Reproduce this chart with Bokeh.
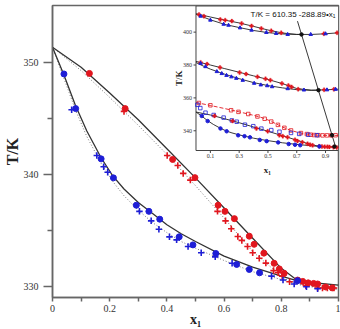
import math
from bokeh.plotting import figure
from bokeh.models import Range1d, FixedTicker
from bokeh.embed import file_html
from bokeh.resources import INLINE
from bokeh.core.properties import value

# ---------------- main panel: T versus x1 ----------------
red_circ_x = [0.129, 0.254, 0.42, 0.498, 0.579, 0.603, 0.636, 0.688, 0.705, 0.739,
              0.775, 0.793, 0.81, 0.857, 0.875, 0.894, 0.913, 0.927, 0.955, 0.978]
red_circ_T = [349.05, 345.9, 341.35, 339.72, 337.25, 336.7, 336.05, 334.48, 333.75, 332.96,
              332.05, 331.55, 331.15, 330.55, 330.43, 330.3, 330.25, 330.2, 329.93, 329.85]

red_plus_x = [0.25, 0.401, 0.438, 0.457, 0.482, 0.577, 0.605, 0.625, 0.648, 0.662, 0.682,
              0.7, 0.723, 0.746, 0.773, 0.789, 0.803, 0.829, 0.886, 0.927, 0.944, 0.961, 0.984]
red_plus_T = [345.65, 341.7, 340.8, 340.1, 339.5, 336.7, 335.85, 335.15, 334.45, 334.1, 333.55,
              333.0, 332.5, 332.07, 331.4, 331.2, 330.9, 330.4, 330.05, 329.84, 329.84, 329.84, 329.84]

blue_circ_x = [0.04, 0.081, 0.17, 0.213, 0.293, 0.337, 0.375, 0.443, 0.491, 0.571,
               0.644, 0.688, 0.724, 0.857]
blue_circ_T = [349.0, 345.9, 341.4, 339.7, 337.25, 336.7, 336.0, 334.42, 333.7, 332.93,
               331.95, 331.5, 331.2, 330.5]

blue_plus_x = [0.067, 0.155, 0.179, 0.193, 0.304, 0.345, 0.372, 0.409, 0.434, 0.474, 0.52,
               0.569, 0.628, 0.766, 0.806, 0.845, 0.888, 0.927]
blue_plus_T = [345.8, 341.7, 340.7, 340.2, 336.7, 335.85, 335.1, 334.42, 334.15, 333.55, 333.0,
               332.63, 332.05, 330.9, 330.55, 330.2, 329.95, 329.78]

# fitted curves
red_fit_x = [0, 0.1, 0.2, 0.3, 0.4, 0.5, 0.6, 0.7, 0.8, 0.86, 0.9, 1.0]
red_fit_T = [351.4, 349.6, 347.3, 344.9, 342.3, 339.7, 337.0, 334.3, 331.6, 330.45, 330.35, 330.1]
red_fit2_x = [0, 0.1, 0.2, 0.3, 0.4, 0.5, 0.6, 0.7, 0.8, 0.83, 0.9, 1.0]
red_fit2_T = [351.4, 349.3, 346.9, 344.4, 341.8, 339.0, 336.1, 333.1, 330.9, 330.4, 330.0, 329.8]
blue_fit_x = [0, 0.04, 0.08, 0.12, 0.17, 0.21, 0.25, 0.3, 0.35, 0.4, 0.45, 0.5, 0.6, 0.7, 0.8, 0.86]
blue_fit_T = [351.4, 348.9, 346.2, 343.9, 341.5, 339.9, 338.7, 337.5, 336.5, 335.5, 334.7, 334.0,
              332.7, 331.7, 330.9, 330.45]
blue_fit2_x = [0, 0.04, 0.08, 0.12, 0.17, 0.21, 0.25, 0.3, 0.35, 0.4, 0.45, 0.5, 0.6, 0.7, 0.8,
               0.86, 0.9, 1.0]
blue_fit2_T = [351.4, 348.6, 345.8, 343.4, 341.0, 339.4, 338.1, 336.8, 335.7, 334.8, 334.0, 333.4,
               332.3, 331.3, 330.6, 330.15, 329.95, 329.7]

x_ticks = [0, 0.2, 0.4, 0.6, 0.8, 1]
x_tick_labels = ["0", "0.2", "0.4", "0.6", "0.8", "1"]
x_minor = [0.1, 0.3, 0.5, 0.7, 0.9]
y_ticks = [330, 340, 350]
y_tick_labels = ["330", "340", "350"]
y_minor = [335, 345]

# ---------------- inset: several systems ----------------
top_red_x = [0.021, 0.055, 0.169, 0.203, 0.249, 0.317, 0.386, 0.454, 0.523, 0.592, 0.888, 0.98]
top_red_T = [410.7, 409.7, 407.7, 407.3, 406.7, 405.3, 403.8, 402.2, 400.8, 399.6, 399.0, 399.6]
top_blue_x = [0.032, 0.1, 0.192, 0.226, 0.306, 0.386, 0.489, 0.557, 0.637, 0.797, 0.9]
top_blue_T = [409.7, 407.3, 404.8, 404.2, 402.6, 401.2, 399.8, 399.2, 398.6, 398.6, 399.0]
top_fit_a_x = [0, 0.1, 0.2, 0.3, 0.4, 0.5, 0.6, 0.7, 0.8, 0.9, 0.99]
top_fit_a_T = [411.2, 409.2, 407.3, 405.6, 403.5, 401.3, 399.5, 398.6, 398.6, 399.0, 399.6]
top_fit_b_x = [0, 0.1, 0.2, 0.3, 0.4, 0.5, 0.6, 0.7, 0.733]
top_fit_b_T = [410.9, 407.5, 404.7, 402.8, 401.0, 399.7, 398.9, 398.6, 398.6]

mid_red_x = [0.032, 0.077, 0.167, 0.303, 0.348, 0.427, 0.483, 0.517, 0.597, 0.642, 0.664, 0.71,
             0.89, 0.958]
mid_red_T = [381.6, 380.6, 378.5, 375.4, 374.5, 372.8, 371.6, 370.8, 368.8, 367.5, 366.7, 365.3,
             364.9, 365.2]
mid_blue_x = [0.032, 0.066, 0.145, 0.179, 0.212, 0.246, 0.28, 0.325, 0.404, 0.45, 0.495, 0.529,
              0.637, 0.75, 0.91, 0.97]
mid_blue_T = [381.0, 379.0, 376.0, 374.8, 373.7, 372.8, 371.9, 370.7, 368.9, 367.9, 367.4, 366.8,
              365.6, 364.8, 364.9, 365.2]
mid_fit_a_x = [0, 0.1, 0.2, 0.3, 0.4, 0.5, 0.6, 0.7, 0.8, 0.9, 0.99]
mid_fit_a_T = [382.2, 380.0, 377.8, 375.6, 373.4, 371.2, 368.7, 365.7, 364.7, 364.9, 365.3]
mid_fit_b_x = [0, 0.05, 0.1, 0.2, 0.3, 0.4, 0.5, 0.6, 0.7, 0.8, 0.85]
mid_fit_b_T = [381.5, 379.4, 377.5, 374.4, 371.7, 369.3, 367.5, 366.1, 365.0, 364.6, 364.6]

sq_red_x = [0.02, 0.1, 0.244, 0.295, 0.363, 0.427, 0.477, 0.523, 0.569, 0.614, 0.66, 0.729,
            0.77, 0.797, 0.82, 0.85, 0.88, 0.91, 0.94, 0.97]
sq_red_T = [356.9, 355.5, 352.5, 351.5, 350.2, 348.7, 347.3, 345.6, 343.6, 341.8, 340.2, 338.6,
            338.0, 337.6, 337.4, 337.3, 337.2, 337.2, 337.2, 337.3]
sq_red_fit_x = [0, 0.1, 0.2, 0.3, 0.4, 0.45, 0.5, 0.55, 0.6, 0.65, 0.7, 0.75, 0.8, 0.85, 0.9, 0.99]
sq_red_fit_T = [357.2, 355.4, 353.5, 351.5, 349.4, 348.2, 346.6, 344.5, 342.3, 340.5, 339.2,
                338.2, 337.6, 337.3, 337.2, 337.2]
sq_blue_x = [0.01, 0.03, 0.066, 0.123, 0.192, 0.249, 0.283, 0.34, 0.398, 0.454, 0.523, 0.58,
             0.66, 0.717, 0.78, 0.84]
sq_blue_T = [355.8, 353.8, 351.0, 349.6, 348.0, 346.3, 345.5, 343.7, 342.8, 341.3, 340.4, 339.4,
             338.7, 338.1, 337.6, 337.3]

eut_x = [0.733, 0.851, 0.945, 0.962]
eut_T = [398.6, 364.7, 337.3, 330.4]

# eutectic line T/K = a - b*x1
line_a, line_b = 610.35, 288.89
line_x = [0.705, 0.97]
line_T = [line_a - line_b * v for v in line_x]

ins_x_ticks = [0.1, 0.3, 0.5, 0.7, 0.9]
ins_x_tick_labels = ["0.1", "0.3", "0.5", "0.7", "0.9"]
ins_y_ticks = [340, 360, 380, 400]
ins_y_tick_labels = ["340", "360", "380", "400"]

RED = "#e1161e"
BLUE = "#1e1ed6"
AX = "#666666"
SERIF = "Liberation Serif"

# ---------------- layout ----------------
W, H = 340, 329
B_L, B_R, B_T, B_B = 48, 2, 5, 31
x_lo, x_hi = 0.0, 1.0
y_lo, y_hi = 328.99, 355.13

# inset box (canvas pixels) and its data window
IN_L, IN_R, IN_T, IN_B = 193.5, W - B_R, 5.5, 150.5
ix_lo, ix_hi = 0.0, 0.99
iy_lo, iy_hi = 328.0, 415.9
ux = (ix_hi - ix_lo) / (IN_R - IN_L)
uy = (iy_hi - iy_lo) / (IN_B - IN_T)
ix_range = Range1d(ix_lo - (IN_L - B_L) * ux, ix_hi + ((W - B_R) - IN_R) * ux)
iy_range = Range1d(iy_lo - ((H - B_B) - IN_B) * uy, iy_hi + (IN_T - B_T) * uy)

p = figure(width=W, height=H, output_backend="svg", toolbar_location=None,
           x_range=Range1d(x_lo, x_hi), y_range=Range1d(y_lo, y_hi),
           min_border_left=B_L, min_border_right=B_R, min_border_top=B_T,
           min_border_bottom=B_B)
p.extra_x_ranges = {"ix": ix_range}
p.extra_y_ranges = {"iy": iy_range}

p.xgrid.visible = False
p.ygrid.visible = False
p.background_fill_color = "white"
p.border_fill_color = "white"
p.outline_line_color = AX
p.outline_line_width = 1.5

p.xaxis.ticker = FixedTicker(ticks=x_ticks, minor_ticks=x_minor)
p.xaxis.major_label_overrides = dict(zip(x_ticks, x_tick_labels))
p.yaxis.ticker = FixedTicker(ticks=y_ticks, minor_ticks=y_minor)
p.yaxis.major_label_overrides = dict(zip(y_ticks, y_tick_labels))
for ax in (p.xaxis[0], p.yaxis[0]):
    ax.axis_line_color = AX
    ax.axis_line_width = 1.5
    ax.major_tick_line_color = AX
    ax.major_tick_line_width = 1.5
    ax.minor_tick_line_color = AX
    ax.minor_tick_line_width = 1.5
    ax.major_tick_in = 0
    ax.minor_tick_in = 0
    ax.major_label_text_font = SERIF
    ax.major_label_text_font_size = "10px"
    ax.major_label_text_color = "#333333"
    ax.axis_label_text_font = SERIF
    ax.axis_label_text_font_style = "bold"
    ax.axis_label_text_color = "#222222"
p.xaxis.major_tick_out = 4
p.xaxis.minor_tick_out = 4
p.xaxis.major_label_standoff = 3
p.xaxis.axis_label = "x\u2081"
p.xaxis.axis_label_text_font_size = "14px"
p.xaxis.axis_label_standoff = -3
p.yaxis.major_tick_out = 9
p.yaxis.minor_tick_out = 5
p.yaxis.major_label_standoff = 5
p.yaxis.axis_label = "T/K"
p.yaxis.axis_label_text_font_size = "16px"
p.yaxis.axis_label_standoff = 0

# fitted curves of the main panel
p.line(red_fit2_x, red_fit2_T, line_color="#777777", line_width=1, line_dash="1 2")
p.line(blue_fit2_x, blue_fit2_T, line_color="#777777", line_width=1, line_dash="1 2")
p.line(red_fit_x, red_fit_T, line_color="#333333", line_width=1.3)
p.line(blue_fit_x, blue_fit_T, line_color="#333333", line_width=1.3)

# measured points
p.scatter(red_plus_x, red_plus_T, marker="cross", size=6.5, line_color=RED, line_width=1.6)
p.scatter(blue_plus_x, blue_plus_T, marker="cross", size=6.5, line_color=BLUE, line_width=1.6)
p.scatter(red_circ_x, red_circ_T, marker="circle", size=6, fill_color=RED, line_color=RED)
p.scatter(blue_circ_x, blue_circ_T, marker="circle", size=6, fill_color=BLUE, line_color=BLUE)

# ---------------- inset ----------------
R = dict(x_range_name="ix", y_range_name="iy")
p.quad(left=[ix_lo], right=[ix_hi], bottom=[iy_lo], top=[iy_hi], fill_color="white",
       line_color="#444444", line_width=1, **R)

tick_len = 2.5
p.segment(x0=ins_x_ticks, y0=[iy_lo] * len(ins_x_ticks), x1=ins_x_ticks,
          y1=[iy_lo - tick_len * uy] * len(ins_x_ticks), line_color="#444444", line_width=1, **R)
p.segment(x0=[ix_lo] * len(ins_y_ticks), y0=ins_y_ticks, x1=[ix_lo - tick_len * ux] * len(ins_y_ticks),
          y1=ins_y_ticks, line_color="#444444", line_width=1, **R)
p.text(x=ins_x_ticks, y=[iy_lo] * len(ins_x_ticks), text=ins_x_tick_labels, y_offset=3.5,
       text_align="center", text_baseline="top", text_font=value(SERIF),
       text_font_size="6px", text_color="#333333", **R)
p.text(x=[ix_lo] * len(ins_y_ticks), y=ins_y_ticks, text=ins_y_tick_labels, x_offset=-4,
       text_align="right", text_baseline="middle", text_font=value(SERIF),
       text_font_size="6px", text_color="#333333", **R)
p.text(x=[ix_lo], y=[(iy_lo + iy_hi) / 2], text=["T/K"], x_offset=-17, angle=math.pi / 2,
       text_align="center", text_baseline="middle", text_font=value(SERIF),
       text_font_style="bold", text_font_size="9px", text_color="#222222", **R)
p.text(x=[(ix_lo + ix_hi) / 2], y=[iy_lo], text=["x\u2081"], y_offset=19.5,
       text_align="center", text_baseline="middle", text_font=value(SERIF),
       text_font_style="bold", text_font_size="9px", text_color="#222222", **R)
p.text(x=[ix_hi], y=[iy_hi], text=["T/K = 610.35 -288.89\u2022x\u2081"], x_offset=-3, y_offset=8.5,
       text_align="right", text_baseline="middle", text_font=value("Liberation Sans"),
       text_font_size="8px", text_color="#111111", **R)

# inset curves
for fx, fT in ((top_fit_a_x, top_fit_a_T), (top_fit_b_x, top_fit_b_T),
               (mid_fit_a_x, mid_fit_a_T), (mid_fit_b_x, mid_fit_b_T),
               (red_fit_x, red_fit_T), (blue_fit_x, blue_fit_T)):
    p.line(fx, fT, line_color="#222222", line_width=0.9, **R)
p.line(sq_red_fit_x, sq_red_fit_T, line_color=RED, line_width=0.9, line_dash="4 2", **R)
p.line(line_x, line_T, line_color="#222222", line_width=0.9, **R)

# inset points
p.scatter(sq_red_x, sq_red_T, marker="square", size=3.5, fill_color=None, line_color=RED,
          line_width=0.8, **R)
p.scatter(sq_blue_x, sq_blue_T, marker="square", size=3.5, fill_color=None, line_color=BLUE,
          line_width=0.8, **R)
for xs, ts in ((top_red_x, top_red_T), (mid_red_x, mid_red_T), (red_circ_x, red_circ_T)):
    p.scatter(xs, ts, marker="plus", size=4, fill_color=RED, line_color=RED, line_width=0.3, **R)
for xs, ts in ((top_blue_x, top_blue_T), (mid_blue_x, mid_blue_T)):
    p.scatter(xs, ts, marker="triangle", size=3.5, fill_color=BLUE, line_color=BLUE, **R)
p.scatter(blue_circ_x, blue_circ_T, marker="circle", size=3.5, fill_color=BLUE, line_color=BLUE, **R)
p.scatter(eut_x, eut_T, marker="circle", size=3.5, fill_color="#111111", line_color="#111111", **R)

open("out.html", "w").write(file_html(p, INLINE))
